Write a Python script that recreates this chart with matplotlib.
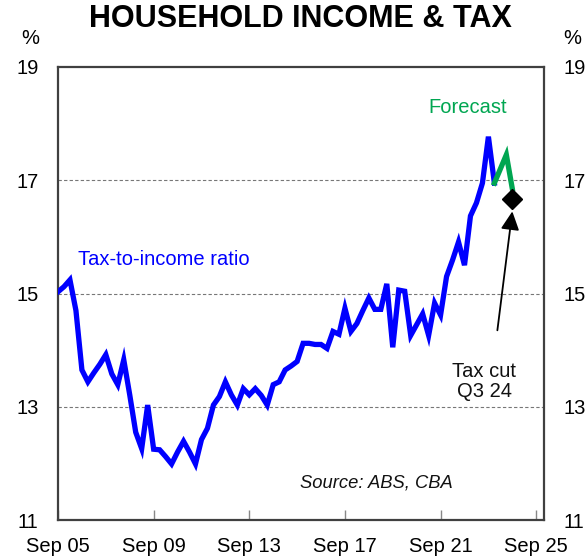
import matplotlib
matplotlib.use("Agg")
import matplotlib.pyplot as plt
import numpy as np

BLUE, GREEN, INK, SPINE = "#0000FF", "#00A651", "#111111", "#404040"

# quarterly tax-to-income ratio (%), Sep 05 .. Dec 23
actual = [15.03, 15.12, 15.24, 14.70, 13.65, 13.44, 13.60, 13.75, 13.92, 13.58,
          13.39, 13.83, 13.21, 12.55, 12.26, 13.03, 12.25, 12.24, 12.12, 11.99,
          12.20, 12.39, 12.20, 11.99, 12.42, 12.62, 13.03, 13.18, 13.44, 13.21,
          13.03, 13.32, 13.21, 13.32, 13.20, 13.03, 13.39, 13.44, 13.65, 13.72,
          13.80, 14.12, 14.12, 14.10, 14.10, 14.03, 14.33, 14.28, 14.74, 14.33,
          14.47, 14.70, 14.92, 14.72, 14.72, 15.17, 14.05, 15.06, 15.04, 14.26,
          14.45, 14.64, 14.26, 14.83, 14.62, 15.30, 15.59, 15.91, 15.50, 16.37,
          16.60, 16.95, 17.77, 16.95]
# forecast Dec 23 .. Sep 24
forecast = [16.95, 17.20, 17.45, 16.85]
tax_cut_q = 76          # Sep 24 quarter index
tax_cut_val = 16.67

tick_q = [0, 16, 32, 48, 64, 80]
tick_lbl = ["Sep 05", "Sep 09", "Sep 13", "Sep 17", "Sep 21", "Sep 25"]
y_ticks = [11, 13, 15, 17, 19]

plt.rcParams.update({"font.family": ["Liberation Sans", "DejaVu Sans"], "font.size": 14.5})

fig = plt.figure(figsize=(5.88, 5.59), dpi=100)
ax = fig.add_axes([58 / 588, 1 - 520 / 559, (544 - 58) / 588, (520 - 67) / 559])

qa = np.arange(len(actual))
qf = np.arange(len(actual) - 1, len(actual) - 1 + len(forecast))
ax.plot(qa, actual, color=BLUE, lw=3.8, solid_joinstyle="miter", zorder=3)
ax.plot(qf, forecast, color=GREEN, lw=3.8, solid_joinstyle="miter", zorder=3)
ax.plot(tax_cut_q, tax_cut_val, marker="D", ms=10, color="black", zorder=4)

ax.set_xlim(0, 81.3)
ax.set_ylim(11, 19)
ax.set_xticks(tick_q)
ax.set_xticklabels(tick_lbl)
ax.set_yticks(y_ticks)
ax.tick_params(axis="x", direction="in", length=7, width=1, color="#888888", pad=12)
ax.tick_params(axis="y", length=0, pad=14, labelright=True)
for y in [13, 15, 17]:
    ax.axhline(y, color="#777777", lw=0.8, ls=(0, (3, 2)), zorder=1)
for s in ax.spines.values():
    s.set_color(SPINE)
    s.set_linewidth(1.6)

ax.annotate("", xy=(tax_cut_q, 16.45), xytext=(73.5, 14.35),
            arrowprops=dict(arrowstyle="-|>", color="black", lw=1.3,
                            mutation_scale=28, shrinkA=0, shrinkB=0))

ax.text(3.3, 15.6, "Tax-to-income ratio", color=BLUE, fontsize=14.5, va="center")
ax.text(68.6, 18.29, "Forecast", color=GREEN, fontsize=14.5, ha="center", va="center")
ax.text(71.3, 13.45, "Tax cut\nQ3 24", color=INK, fontsize=14.5, ha="center",
        va="center", linespacing=1.1)
ax.text(40.5, 11.65, "Source: ABS, CBA", color=INK, fontsize=13.2, style="italic", va="center")

fig.text(300 / 588, 1 - 19 / 559, "HOUSEHOLD INCOME & TAX", fontsize=22,
         fontweight="bold", ha="center", va="center")
fig.text(30 / 588, 1 - 38 / 559, "%", fontsize=14.5, ha="center", va="center")
fig.text(572 / 588, 1 - 38 / 559, "%", fontsize=14.5, ha="center", va="center")

fig.savefig("out.png", dpi=100)
